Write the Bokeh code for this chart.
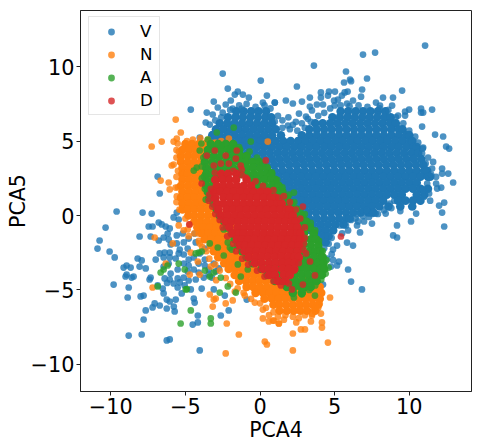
from bokeh.plotting import figure
from bokeh.embed import file_html
from bokeh.resources import INLINE
from bokeh.models import FixedTicker, Range1d

labels = ["V", "N", "A", "D"]
colors = ["#1f77b4", "#ff7f0e", "#2ca02c", "#d62728"]
x_ticks = [-10, -5, 0, 5, 10]
y_ticks = [-10, -5, 0, 5, 10]
tick_text = {-10: "\u221210", -5: "\u22125", 0: "0", 5: "5", 10: "10"}

# dense interior of each cloud, read row by row: (PCA5, [PCA4 values])
v_core = [
 (7.0,[-1.6,-1.1,-.6,-.1,.4,5.4,5.9,6.4,6.9,7.4,7.9,8.4]),
 (6.6,[-2.15,-1.65,-1.15,-.65,-.15,.35,.75,4.85,5.35,5.85,6.35,6.85,7.35,7.85,8.35,8.75]),
 (6.2,[-2.7,-2.2,-1.7,-1.2,-.7,-.2,.3,.8,3.7,4.2,4.7,5.2,5.7,6.2,6.7,7.2,7.7,8.2,8.7,9.1]),
 (5.8,[-2.95,-2.45,-1.95,-1.45,-.95,-.45,.05,.55,1.05,3.3,3.8,4.3,4.8,5.3,5.8,6.3,6.8,7.3,7.8,8.3,8.8,9.3,9.55]),
 (5.4,[-3.2,-2.7,-2.2,-1.7,-1.2,-.7,-.2,.3,.8,1.4,2.8,3.3,3.8,4.3,4.8,5.3,5.8,6.3,6.8,7.3,7.8,8.3,8.8,9.3,9.8,10.0]),
 (5.0,[-3.4,-2.95,-2.45,-1.95,-1.45,-.95,-.45,.05,.55,1.05,1.55,2.05,2.55,3.05,3.55,4.05,4.55,5.05,5.55,6.05,6.55,7.05,7.55,8.05,8.55,9.05,9.55,10.05,10.2]),
 (4.6,[-3.3,-2.7,-2.2,-1.7,-1.2,-.7,-.2,.3,.8,1.3,1.8,2.3,2.8,3.3,3.8,4.3,4.8,5.3,5.8,6.3,6.8,7.3,7.8,8.3,8.8,9.3,9.8,10.3,10.5]),
 (4.2,[-1.8,-1.35,-.85,-.35,.15,.65,1.15,1.65,2.15,2.65,3.15,3.65,4.15,4.65,5.15,5.65,6.15,6.65,7.15,7.65,8.15,8.65,9.15,9.65,10.15,10.6]),
 (3.8,[-1.2,-.7,-.2,.3,.8,1.3,1.8,2.3,2.8,3.3,3.8,4.3,4.8,5.3,5.8,6.3,6.8,7.3,7.8,8.3,8.8,9.3,9.8,10.3,10.8]),
 (3.4,[0,.45,.95,1.45,1.95,2.45,2.95,3.45,3.95,4.45,4.95,5.45,5.95,6.45,6.95,7.45,7.95,8.45,8.95,9.45,9.95,10.45,10.95]),
 (3.0,[.5,1.0,1.5,2.0,2.5,3.0,3.5,4.0,4.5,5.0,5.5,6.0,6.5,7.0,7.5,8.0,8.5,9.0,9.5,10.0,10.5,11.0,11.2]),
 (2.6,[.8,1.25,1.75,2.25,2.75,3.25,3.75,4.25,4.75,5.25,5.75,6.25,6.75,7.25,7.75,8.25,8.75,9.25,9.75,10.25,10.75,11.25,11.4]),
 (2.2,[1.0,1.5,2.0,2.5,3.0,3.5,4.0,4.5,5.0,5.5,6.0,6.5,7.0,7.5,8.0,8.5,9.0,9.5,10.0,10.5]),
 (1.8,[1.2,1.75,2.25,2.75,3.25,3.75,4.25,4.75,5.25,5.75,6.25,6.75,7.25,7.75,8.25,8.75,9.25,9.75,10.25,10.75,11.25]),
 (1.4,[1.4,2.0,2.5,3.0,3.5,4.0,4.5,5.0,5.5,6.0,6.5,7.0,7.5,8.0,8.5,9.0,9.5,10.5,11.0]),
 (1.0,[1.6,2.25,2.75,3.25,3.75,4.25,4.75,5.25,5.75,6.25,6.75,7.25,7.75,8.25,9.25,9.75,10.25,10.75]),
 (.6,[2.0,2.5,3.0,3.5,4.0,4.5,5.0,5.5,6.0,6.5,7.0,7.5,8.0,8.6,9.4,10.2]),
 (.2,[2.4,2.75,3.25,3.75,4.25,4.75,5.25,5.75,6.25,6.75,7.25,7.6]),
 (-.2,[2.8,3.3,3.8,4.3,4.8,5.3,5.8,6.0]),
 (-.6,[3.0,3.55,4.05,4.55,5.05,5.6]),
 (-1.0,[3.4,3.9,4.4,4.9]),
 (-1.4,[3.8,4.2,4.6]),
 (-1.8,[4.0,4.4]),
]
n_core = [
 (4.8,[-5.0,-4.55,-4.1,-3.65,-3.2]),
 (4.4,[-5.2,-4.75,-4.3,-3.85,-3.4]),
 (4.0,[-5.3,-4.85,-4.4,-3.95,-3.5]),
 (3.6,[-5.3,-4.85,-4.4,-3.95,-3.5]),
 (3.2,[-5.2,-4.75,-4.3,-3.85,-3.4]),
 (2.8,[-5.2,-4.85,-4.4,-3.95,-3.5]),
 (2.4,[-5.2,-4.75,-4.3,-3.85,-3.4]),
 (2.0,[-5.3,-4.85,-4.4,-3.95,-3.5]),
 (1.6,[-5.2,-4.75,-4.3,-3.85,-3.4]),
 (1.2,[-5.3,-4.85,-4.4,-3.95,-3.5,-3.1]),
 (.8,[-5.2,-4.75,-4.3,-3.85,-3.4,-3.0]),
 (.4,[-5.2,-4.85,-4.4,-3.95,-3.5,-3.05,-2.8]),
 (0,[-4.8,-4.4,-3.95,-3.5,-3.05,-2.6]),
 (-.4,[-4.4,-4.0,-3.55,-3.1,-2.65,-2.2]),
 (-.8,[-4.2,-3.8,-3.35,-2.9,-2.45,-1.9]),
 (-1.2,[-3.9,-3.45,-3.0,-2.55,-2.1,-1.4]),
 (-1.6,[-3.7,-3.25,-2.8,-2.35,-1.9,-1.45,-1.1]),
 (-2.0,[-3.3,-2.9,-2.45,-2.0,-1.55,-1.1,-.9]),
 (-2.4,[-3.1,-2.65,-2.2,-1.75,-1.3,-.85,-.5]),
 (-2.8,[-2.8,-2.35,-1.9,-1.45,-1.0,-.55,-.2]),
 (-3.2,[-2.4,-2.0,-1.55,-1.1,-.65,-.2,.1]),
 (-3.6,[-2.1,-1.65,-1.2,-.75,-.3,.15,.5]),
 (-4.0,[-1.7,-1.3,-.85,-.4,.05,.5,.95,1.4]),
 (-4.4,[-1.4,-.95,-.5,-.05,.4,.85,1.3,1.75,2.2,2.65,3.1]),
 (-4.8,[-.9,-.45,0,.45,.9,1.35,1.8,2.25,2.7,3.15,3.6,4.0]),
 (-5.2,[-.3,.2,.65,1.1,1.55,2.0,2.45,2.9,3.35,3.8,4.1]),
 (-5.6,[.3,.8,1.25,1.7,2.15,2.6,3.05,3.5,4.0]),
 (-6.0,[.9,1.3,1.75,2.2,2.65,3.1,3.55,3.9]),
 (-6.4,[1.3,1.8,2.25,2.7,3.15,3.7]),
]
a_core = [
 (4.8,[-3.3,-2.8,-2.3,-1.8]),
 (4.4,[-3.5,-3.05,-2.6,-2.15,-1.7,-1.4]),
 (4.0,[-3.6,-3.1,-2.65,-2.2,-1.75,-1.3,-.9]),
 (3.6,[-3.7,-3.2,-2.75,-2.3,-1.85,-1.4,-.95,-.5,-.05]),
 (3.2,[-3.6,-3.15,-2.7,-2.25,-1.8,-1.35,-.9,-.45,0,.45]),
 (2.8,[-3.6,-3.2,-2.75,-2.3,-1.3,-.85,-.4,.05,.5,.75]),
 (2.4,[-3.6,-3.15,-.6,-.15,.3,.75,1.0]),
 (2.0,[-3.6,-3.2,-.4,-.1,.35,.8,1.25]),
 (1.6,[-3.5,.5,.8,1.3,1.5]),
 (1.2,[-3.4,1.1,1.45,1.8]),
 (.8,[-3.1,1.5,1.85,2.1]),
 (.4,[-2.9,1.9,2.2,2.45]),
 (0,[-2.7,2.1,2.45,2.8]),
 (-.4,[-2.4,2.3,2.65,3.1]),
 (-.8,[-2.2,2.5,2.8,3.35]),
 (-1.2,[-1.9,2.6,2.95,3.6]),
 (-1.6,[-1.7,2.6,2.95,3.4,3.75]),
 (-2.0,[-1.5,2.5,2.9,3.4,3.9]),
 (-2.4,[-1.2,2.4,2.8,3.3,3.7,4.05]),
 (-2.8,[-.9,2.2,2.6,3.1,3.6,4.05,4.2]),
 (-3.2,[-.5,.6,1.05,1.5,2.0,2.5,2.95,3.4,3.85,4.25]),
 (-3.6,[.1,.8,1.3,1.75,2.2,2.7,3.15,3.6,4.05,4.3]),
 (-4.0,[.5,1.0,1.45,1.9,2.35,2.8,3.25,3.7,3.9,4.15]),
 (-4.4,[1.0,1.5,1.95,2.4,2.85,3.3,3.5,3.8]),
 (-4.8,[1.8,2.3,2.75,3.0,3.4]),
 (-5.2,[2.2,2.8]),
]
d_core = [
 (2.8,[-2.6,-2.15,-1.6]),
 (2.4,[-3.0,-2.5,-2.05,-1.6,-.9]),
 (2.0,[-2.9,-2.45,-2.0,-1.55,-1.1,-.6]),
 (1.6,[-3.1,-2.65,-2.2,-1.75,-1.3,-.85,-.4,.05,.5]),
 (1.2,[-3.0,-2.45,-2.0,-1.55,-1.1,-.65,-.2,.25,.7,1.0]),
 (.8,[-2.9,-2.45,-2.0,-1.55,-1.1,-.65,-.2,.25,.7,1.15,1.45]),
 (.4,[-2.8,-2.25,-1.8,-1.35,-.9,-.45,0,.45,.9,1.35,1.8,2.0]),
 (0,[-2.6,-2.15,-1.7,-1.25,-.8,-.35,.1,.55,1.0,1.45,1.9,2.2]),
 (-.4,[-2.3,-1.9,-1.45,-1.0,-.55,-.1,.35,.8,1.25,1.7,2.15,2.4]),
 (-.8,[-2.05,-1.5,-1.05,-.6,-.15,.3,.75,1.2,1.65,2.1,2.5]),
 (-1.2,[-1.85,-1.4,-1.1,-.65,-.2,.25,.7,1.15,1.6,2.05,2.5,2.7]),
 (-1.6,[-1.55,-1.2,-.8,-.35,.1,.55,1.0,1.45,1.9,2.35,2.7]),
 (-2.0,[-1.35,-1.0,-.55,-.1,.35,.8,1.25,1.7,2.15,2.6]),
 (-2.4,[-1.05,-.7,-.25,.2,.65,1.1,1.55,2.0,2.5]),
 (-2.8,[-.75,-.3,.1,.55,1.0,1.45,1.9,2.3,2.6]),
 (-3.2,[-.35,.1,.6,1.05,1.5,1.9,2.3]),
 (-3.6,[.2,.6,1.0,1.5,1.9,2.3]),
 (-4.0,[.6,1.0,1.6,2.0]),
 (-4.4,[1.2,1.7]),
]

# individually readable points: (PCA4, PCA5)
v_pts = [(11.06,11.42),(6.9,10.82),(7.71,10.95),(3.61,10.08),(5.76,9.68),(5.63,8.94),(6.03,9.14),(6.1,9.03),(7.17,9.21),(2.47,8.67),(6.84,8.47),(9.52,8.4),(6.77,7.99),(5.87,8.33),(5.67,8.27),(4.08,8.27),(4.62,8.33),(5.02,8.33),(4.08,7.93),(4.55,8.06),(3.34,7.93),(1.73,7.73),(2.2,7.53),(2.81,7.66),(.99,7.59),(5.22,7.79),(4.96,7.73),(5.49,8.06),(6.23,7.73),(5.83,7.53),(8.24,7.93),(8.91,7.93),(7.77,7.59),(8.04,7.39),(8.85,7.39),(3.34,7.32),(4.22,7.46),(3.81,7.46),(3.48,7.06),(2.61,6.85),(3.08,6.65),(11.53,7.12),(10.79,7.19),(10.79,6.92),(10.93,6.92),(9.99,7.12),(9.72,6.99),(9.72,6.72),(9.25,6.72),(10.86,5.98),(1.87,6.05),(.99,6.32),(11.73,5.44),(12.27,5.31),(12.47,4.64),(12.67,4.5),(12.94,2.22),(12.61,2.82),(12.2,3.16),(12.2,2.82),(11.53,3.16),(11.47,2.75),(11.26,3.9),(10.93,4.57),(10.86,4.17),(11.8,2.15),(12.14,1.88),(11.87,1.81),(12.34,.87),(12.0,.67),(11.4,1.0),(11.0,1.26),(11.33,1.48),(11.2,2.15),
 (12.2,.2),(12.34,-.74),(10.46,.13),(10.12,-.4),(9.18,-.67),(8.92,-1.34),(9.18,-1.48),(7.5,-.54),(6.97,-.4),(6.57,-.4),(6.5,-.67),(6.7,-1.14),(5.83,-1.82),(6.23,-2.02),(5.16,-2.02),(4.89,-2.29),(5.29,-3.09),(5.16,-3.36),(4.75,-3.43),(5.9,-3.63),(6.1,-4.44),(6.83,-4.97),(4.22,-4.64),(5.56,-.54),(5.76,-.67),(5.36,-.67),(8.42,.13),(7.75,.13),(6.52,.07),(7.15,.36),
 (-9.61,.27),(-7.87,.2),(-7.26,.13),(-10.35,-.81),(-10.75,-1.68),(-10.89,-2.22),(-10.08,-2.42),(-9.74,-2.82),(-8.07,-1.41),(-7.46,-.74),(-7.2,-.74),(-6.79,-.47),(-6.59,-.6),(-7.33,-1.41),(-6.79,-1.68),(-6.99,-2.96),(-6.72,-2.55),(-8.2,-2.89),(-7.93,-3.02),(-9.14,-3.5),(-8.94,-3.36),(-8.67,-3.5),(-8.07,-3.43),(-7.66,-3.56),(-9.01,-4.1),(-8.94,-3.97),(-8.6,-4.17),(-8.47,-4.1),(-9.81,-4.64),(-7.33,-4.17),(-7.4,-4.3),(-8.8,-4.84),(-8.87,-5.51),(-8.0,-5.44),(-7.8,-5.38),(-7.06,-5.91),(-7.2,-6.18),(-6.72,-6.05),(-7.66,-6.38),(-7.8,-6.99),(-6.25,-6.25),(-5.78,-6.12),(-5.72,-6.45),(-8.8,-8.07),(-7.93,-8.0),(-6.25,-8.4),(-6.05,-8.33),(-4.04,-9.07),(-4.51,-7.33),(-4.17,-6.72),(-4.17,-7.19),(-2.63,-6.72),(-2.1,-6.38),(-.89,-5.65),(-4.44,-5.58),(-4.38,-5.85),(-5.65,-5.65),(-6.25,-5.65),(-6.05,-5.78),(-6.46,-5.24),(-6.52,-4.91),(-6.86,-4.7),(-3.91,-4.91),(-4.64,-4.97),(-5.25,-5.24),(-2.36,-5.38),(-3.1,-4.97),
 (-5.58,.2),(-5.79,-.13),(-5.45,-.27),(-6.05,-.87),(-6.32,-.74),(-6.19,-1.21),(-6.46,-1.48),(-6.12,-1.61),(-5.58,-1.34),(-5.18,-1.21),(-5.99,-1.95),(-5.58,-1.88),(-5.11,-1.81),(-5.38,-2.29),(-4.78,-1.55),(-4.38,-1.21),(-4.31,-1.81),(-4.85,-2.22),(-6.39,-2.49),(-6.05,-2.49),(-5.45,-2.55),(-5.11,-2.62),(-6.46,-2.82),(-6.05,-2.82),(-5.65,-2.89),(-4.78,-2.96),(-4.44,-2.82),(-4.04,-2.55),(-3.7,-2.22),(-5.11,-3.23),(-4.78,-3.36),(-4.11,-3.23),(-3.7,-2.96),(-6.12,-3.23),(-6.46,-3.43),(-5.52,-3.63),(-4.44,-3.63),(-4.85,-3.76),(-4.11,-3.83),(-3.7,-3.36),(-3.1,-3.23),(-3.44,-3.63),(-2.76,-3.56),(-5.99,-3.9),(-6.39,-4.23),(-6.05,-4.3),(-5.52,-4.23),(-5.11,-4.17),(-4.78,-4.37),(-4.31,-4.3),(-3.77,-4.17),(-3.23,-4.17),(-5.79,-4.57),(-5.38,-4.5),(-5.52,-4.84),(-5.05,-4.7),(-6.23,-4.53),(-3.44,-3.97),(-2.97,-3.76),
 (-2.5,9.54),(.05,9.07),(-2.16,8.53),(.46,8.06),(-3.1,7.66),(-4.64,7.12),(-3.57,6.92),(-3.17,6.79),(-3.64,6.25),(-6.86,2.62),(-6.72,1.48),(-4.04,5.24),(-3.37,6.11),(-2.83,7.26),(-2.3,7.46),(-1.96,7.73),(-1.49,8.33),(-1.15,8.13),(-.75,7.93),(.19,7.59),(.99,7.59),(-1.69,8.13),(-2.5,6.92),(-1.83,7.19),(-1.22,7.19),
 (-1.4,7.4),(-.9,7.5),(-.3,7.3),(.3,7.4),(.7,7.2),(-2,7.1),(-2.6,6.6),(-3,6.4),(1.2,6.7),(1.5,6.4),(1.9,6.6),(2.4,6.3),(2.8,6.2),(3.2,6.5),(1.5,5.9),(2.0,5.8),(2.5,5.7),(2.2,6.1),(3.0,5.9),(3.4,6.3),(3.9,6.7),(4.3,6.9),(4.7,7.2),(5.0,7.4),(5.4,7.4),(6,7.35),(6.6,7.4),(7.2,7.3),(8,7.2),(8.6,7.1),(9.1,6.6),(9.6,6.2),(10,5.7),(10.4,5.3),(10.6,4.9),(10.9,4.5),(11.1,3.5),(11.6,3.6),(11.8,2.6),(10.9,1.8),(8.7,.8),(9,1),(8.8,.5),(9.4,.3),(8.3,.35),(7.9,.1),(7.5,.1),(7.3,-.1),(6.9,-.05),(6.4,-.2),(6.1,-.3),(5.9,-1.0),(5.5,-1.2),(4.8,-1.5),(4.6,-1.9),(4.3,-2.2),(4.8,-2.6),(4.9,-3.0),(4.5,-2.9)]
n_pts = [(-5.65,6.45),(-5.31,5.58),(-5.58,5.17),(-5.79,4.97),(-5.52,4.84),(-6.59,4.97),(-7.26,4.64),(-5.45,4.3),(-5.92,3.36),(-5.79,3.43),(-6.66,2.35),(-6.12,2.22),(-6.05,1.75),(-5.65,1.88),(-5.58,1.28),(.52,4.97),(-2.09,5.17),(-7.06,-1.48),(-5.45,-.67),(-5.11,-.99),(-4.85,-.94),(-4.78,-1.39),(-5.85,-1.88),(-4.64,-2.49),(-4.17,-3.09),(-6.32,-3.23),(-4.71,-3.97),(-4.04,-3.97),(-3.3,-3.43),(-7.2,-4.84),(-3.37,-5.31),(-2.97,-5.58),(-3.1,-5.65),(-3.17,-6.12),(-2.3,-5.91),(-1.83,-5.71),(-1.69,-5.11),(-1.02,-5.38),(-.35,-5.85),(.19,-6.32),(.19,-6.92),(.59,-7.12),(.93,-7.06),(1.26,-7.26),(-2.23,-7.26),(-1.42,-8.0),(.32,-8.47),(.46,-8.67),(-2.3,-9.27),(-4.04,-1.88),(-3.88,-2.11),(-4.11,-1.21),(-2.94,-4.35),(4.69,-5.51),(4.55,-8.54),(2.2,-9.07),(2.2,-7.93),(2.74,-7.66),(3.01,-7.66),(4.15,-7.53),(4.15,-7.19),(3.41,-7.12),(2.43,-7.19),(1.26,-7.26),(.86,-7.06),(4.08,-6.59),(4.0,-5.91),(3.61,-6.25),(3.48,-6.72),
 (-5.6,4.4),(-5.6,3.9),(-5.5,3.0),(-5.6,2.6),(-5.5,1.9),(-5.6,.9),(-5.4,.4),(-5,-.2),(-4.7,-.6),(-4.4,-1.2),(-4.1,-1.7),(-3.6,-2.4),(-3.4,-2.9),(-3,-3.3),(-2.7,-3.7),(-2.3,-4.2),(-2,-4.6),(-1.5,-4.9),(-1.1,-5.2),(-.6,-5.6),(0,-5.9),(.4,-6.2),(.9,-6.5),(1.2,-6.8),(1.7,-6.7),(2.2,-6.8),(2.6,-6.9),(3,-6.7),(3.5,-6.6),(3.9,-6.2),(1.6,-7),(.6,-6.7),(-4.5,5.1),(-4,5.2),(-3.5,5.1),(-3,4.9),(-2.6,5),(-4.9,5)]
a_pts = [(-3.37,-1.88),(-2.83,-2.15),(-2.43,-.94),(-2.16,-1.81),(-2.02,-2.15),(-1.9,-2.29),(-2.43,-2.69),(-1.49,-3.29),(-.82,-3.63),(-1.29,-4.1),(-2.63,-4.17),(-3.1,-3.83),(-3.37,-4.1),(-3.7,-3.7),(-5.05,-3.63),(-5.45,-3.23),(-4.31,-2.55),(-4.11,-2.49),(-3.91,-2.42),(-6.19,-3.36),(-6.46,-3.63),(-6.66,-3.83),(-6.86,-4.77),(-4.98,-4.97),(-4.9,-4.95),(-2.16,-4.77),(-2.7,-5.18),(-1.62,-5.18),(-4.64,-6.38),(-3.3,-6.92),(-3.3,-7.26),(-5.32,-7.26),(3.68,-5.38),(2.27,-5.51),(-1.76,5.91),(-2.9,5.58),(-.62,4.97),(-4.04,4.37),(-4.44,3.02),(-4.24,3.22),(-3.93,4.84),(-3.5,5.11),(-3.77,2.62),(-3.64,1.07),(2.27,1.54),
 (-3.8,3.9),(-3.9,3.3),(-3.9,2.5),(-3.7,1.8),(-3.2,4.7),(-2.6,4.7),(-2,4.5),(-1.4,4.6),(-.7,4.3),(-.2,3.9),(.2,3.5),(.8,2.9),(1.15,2.4),(1.5,1.9),(1.95,1.4),(2.3,.9),(2.7,.4),(3,.1),(3.4,-.5),(3.7,-1),(3.95,-1.7),(4.2,-2.4),(4.45,-3),(4.6,-3.5),(4.4,-3.9),(4.1,-4.3),(3.7,-4.7),(3.3,-5.0),(2.8,-5.3)]
d_pts = [(5.42,-1.41),(.39,3.7),(-3.57,4.03),(-3.03,4.37),(-2.3,4.03),(-1.56,4.37),(-3.1,3.36),(-2.63,3.49),(-2.09,3.49),(-1.62,3.83),(-1.29,3.36),(-1.22,3.09),(-.95,2.55),(-3.03,2.89),(-3.91,2.15),(-3.44,1.0),(-3.1,1.14),(1.26,1.21),(2.87,.6),(3.35,-3.09),(3.68,-4.03),(2.87,-4.64),(2.14,-4.97),(1.4,-4.7),(1.53,-4.44),(1.93,-4.57),(3.08,-2.55),(2.94,-1.88),(-4.74,-.6),
 (-3.3,1.8),(-3.4,1.4),(-3.2,.6),(-3.0,.1),(-2.7,-.3),(-2.5,-.8),(-2.2,-1.4),(-1.8,-1.9),(-1.6,-2.4),(-1.2,-2.9),(-.8,-3.3),(-.2,-3.7),(.3,-4.1),(.9,-4.4),(2.3,-3.7),(2.6,-3.2),(2.9,-2.3),(3,-1.5),(3,-.8),(2.7,-.2),(2.4,.4),(2.0,.9),(1.6,1.3),(.9,1.7),(.2,2.0),(-.3,2.3),(-1.2,2.7),(-1.8,3)]

p = figure(width=480, height=447, output_backend="svg", toolbar_location=None,
           x_range=Range1d(-12.03, 14.17), y_range=Range1d(-11.83, 13.78),
           min_border_left=80, min_border_right=9, min_border_top=10, min_border_bottom=56,
           background_fill_color="white", border_fill_color="white")

for core, pts, name, col in zip([v_core, n_core, a_core, d_core], [v_pts, n_pts, a_pts, d_pts], labels, colors):
    cx = [x for y, xs in core for x in xs]
    cy = [y for y, xs in core for x in xs]
    p.scatter(cx, cy, size=8.6, fill_color=col, line_color=None, fill_alpha=1)
    p.scatter([a for a, b in pts], [b for a, b in pts], size=6.7, fill_color=col, line_color=None,
              fill_alpha=0.8, legend_label=name)

p.grid.visible = False
for ax, ticks, lab in [(p.xaxis, x_ticks, "PCA4"), (p.yaxis, y_ticks, "PCA5")]:
    ax.ticker = FixedTicker(ticks=ticks)
    ax.major_label_overrides = tick_text
    ax.axis_label = lab
    ax.axis_label_text_font = "DejaVu Sans"
    ax.axis_label_text_font_size = "20.5px"
    ax.axis_label_text_font_style = "normal"
    ax.axis_label_text_color = "black"
    ax.major_label_text_font = "DejaVu Sans"
    ax.major_label_text_font_size = "20.8px"
    ax.major_label_text_color = "black"
    ax.major_tick_in = 0
    ax.major_tick_out = 4
    ax.minor_tick_in = 0
    ax.minor_tick_out = 0
    ax.axis_line_color = "#222222"
    ax.major_tick_line_color = "#222222"
    ax.major_label_standoff = 2
p.xaxis.axis_label_standoff = 1
p.yaxis.axis_label_standoff = -2
p.yaxis.major_label_orientation = "horizontal"
p.outline_line_color = "#222222"
p.outline_line_width = 1

lg = p.legend[0]
lg.location = (8, 276)
lg.margin = 0
lg.padding = 4
lg.spacing = 3
lg.glyph_width = 36
lg.glyph_height = 17
lg.label_height = 17
lg.label_width = 15
lg.label_standoff = 11
lg.label_text_font = "DejaVu Sans"
lg.label_text_font_size = "16.7px"
lg.label_text_color = "black"
lg.border_line_color = "#cccccc"
lg.background_fill_alpha = 0.8

open("out.html", "w").write(file_html(p, INLINE))
